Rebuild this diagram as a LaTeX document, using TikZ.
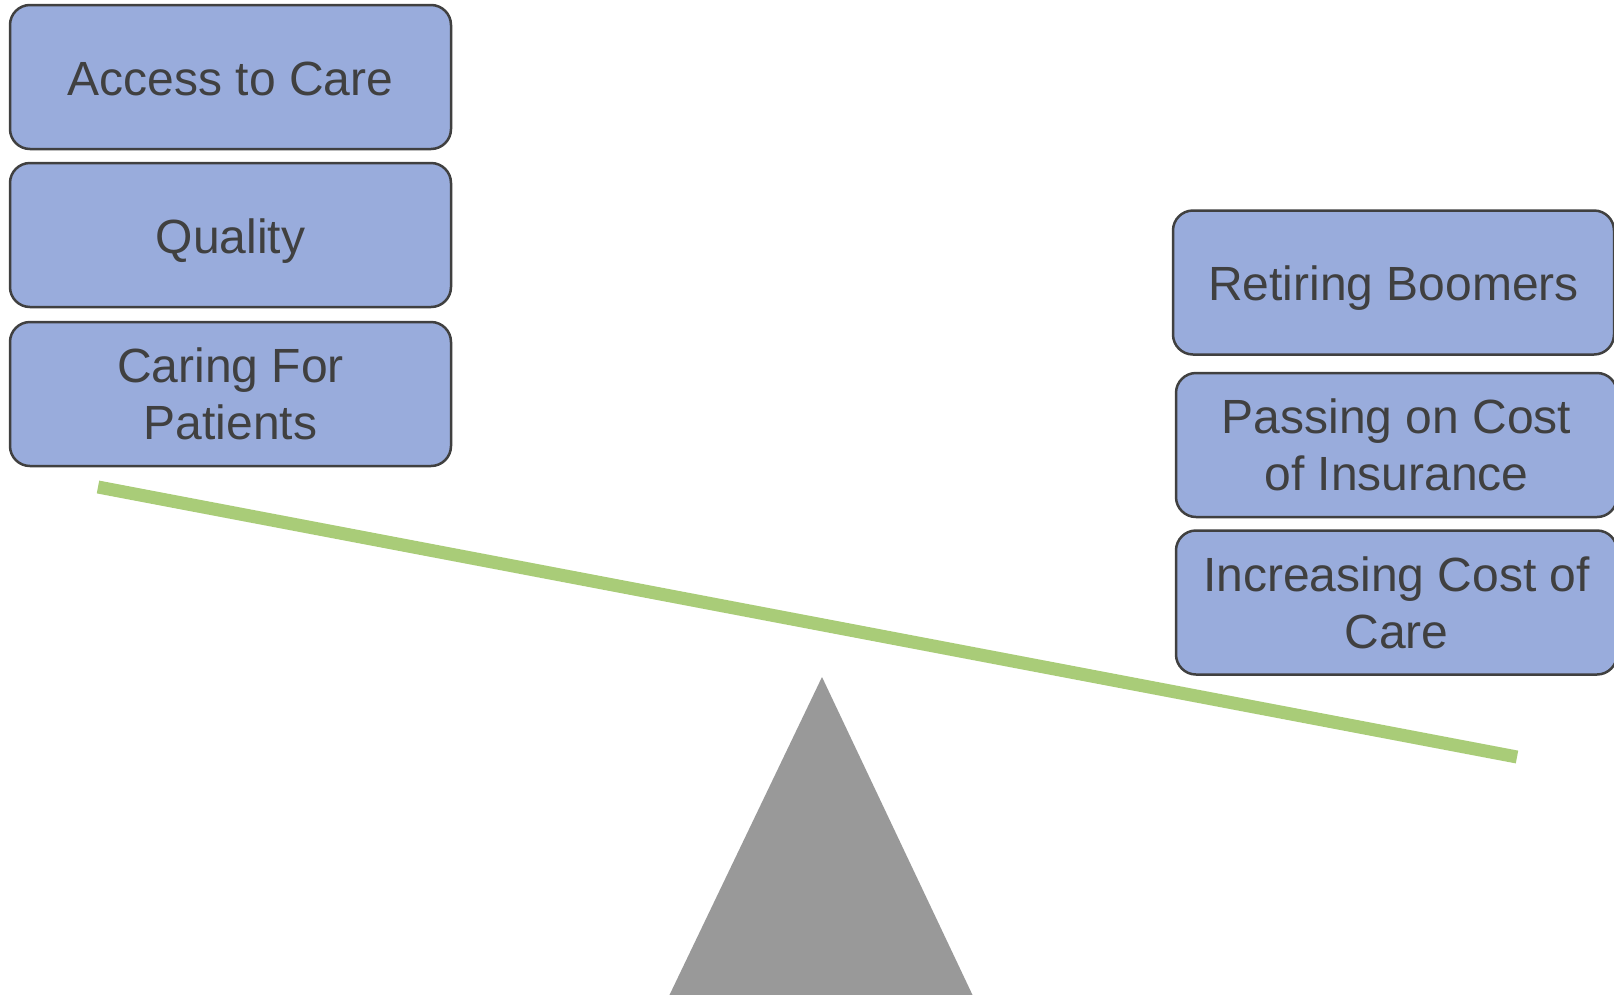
\documentclass[tikz,border=0pt]{standalone}
\usepackage{fontspec}
\setmainfont{Liberation Sans}
\definecolor{boxfill}{RGB}{153,172,220}
\definecolor{boxline}{RGB}{64,64,64}
\definecolor{beamgreen}{RGB}{169,204,120}
\definecolor{fulcrum}{RGB}{153,153,153}
\tikzset{
  factor/.style={draw=boxline, fill=boxfill, line width=2.5pt, rounded corners=20pt,
    minimum width=441pt, minimum height=144pt, inner sep=0pt, align=center,
    text=boxline, font=\fontsize{48}{57}\selectfont},
  oneline/.style={text height=46pt, text depth=10pt},
  beam/.style={draw=beamgreen, line width=13pt},
}
\begin{document}
\begin{tikzpicture}[x=1pt,y=-1pt]
\useasboundingbox (0,0) rectangle (1614,994);
\clip (0,0) rectangle (1614,994);
\fill[white] (0,0) rectangle (1614,994);
% fulcrum
\coordinate (apex) at (822,677);
\coordinate (bl) at (669,996);
\coordinate (br) at (973,996);
\fill[fulcrum] (apex) -- (br) -- (bl) -- cycle;
% beam
\coordinate (bA) at (98,487);
\coordinate (bB) at (1517,757);
\draw[beam] (bA) -- (bB);
% left stack
\node[factor,oneline] (access) at (230.5,77) {Access to Care};
\node[factor,oneline] (quality) at (230.5,235) {Quality};
\node[factor] (caring) at (230.5,394) {Caring For\\Patients};
% right stack
\node[factor,oneline] (retiring) at (1393.5,282.5) {Retiring Boomers};
\node[factor] (passing) at (1396.5,445) {Passing on Cost\\of Insurance};
\node[factor] (increasing) at (1396.5,602.5) {Increasing Cost of\\Care};
\end{tikzpicture}
\end{document}
